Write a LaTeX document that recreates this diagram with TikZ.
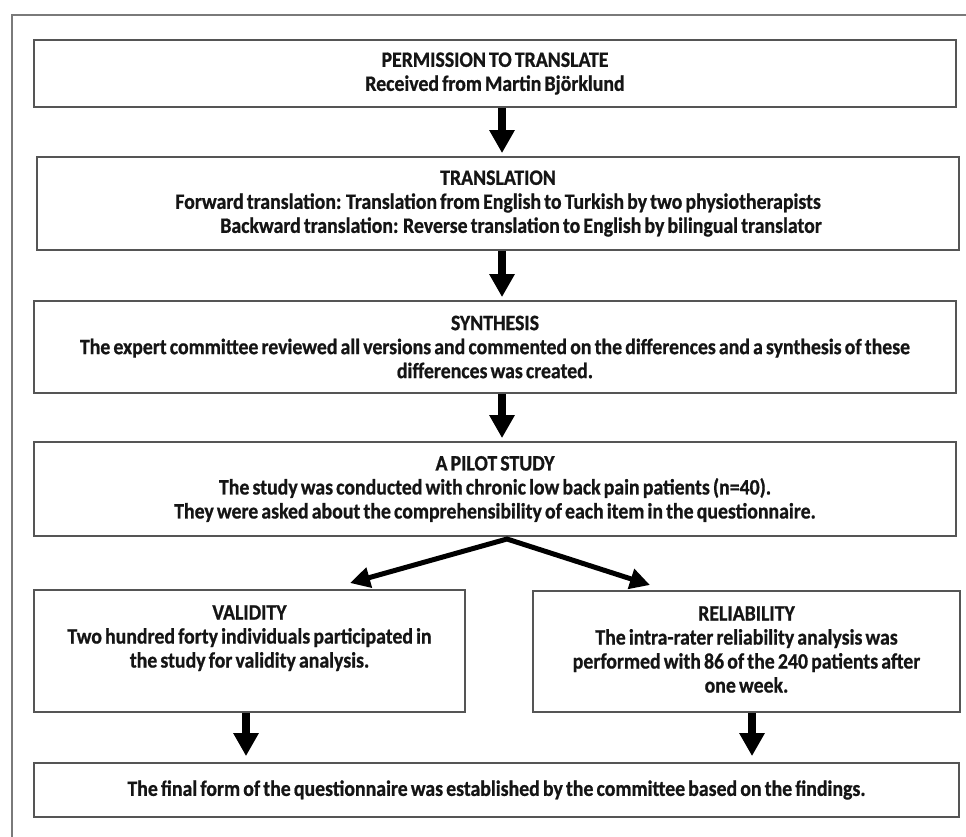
\documentclass[tikz,border=0pt]{standalone}
\usepackage{fontspec}
\setmainfont{Carlito}[WordSpace=0.7, FakeStretch=0.9, BoldFeatures={FakeBold=0.8}]
\usetikzlibrary{arrows.meta}
\definecolor{boxgray}{HTML}{555555}
\definecolor{framegray}{HTML}{7A7A7A}
\definecolor{txtblack}{HTML}{151515}
\tikzset{
  flowbox/.style={draw=boxgray, line width=1.8pt, rectangle, align=center,
    inner sep=0pt, text=txtblack, font=\fontsize{22}{24}\selectfont\bfseries},
  flowtext/.style={align=center, inner sep=0pt, text=txtblack,
    font=\fontsize{22}{24}\selectfont\bfseries},
  downarrow/.style={line width=7.5pt, black,
    -{Triangle[width=24pt,length=23pt]}},
  diagarrow/.style={line width=5pt, black, line join=miter,
    {Triangle[width=20pt,length=20pt]}-{Triangle[width=20pt,length=20pt]}}
}
\begin{document}
\begin{tikzpicture}[x=1pt,y=-1pt]
\useasboundingbox (0,0) rectangle (966,836);
\clip (0,0) rectangle (966,836);
\fill[white] (0,0) rectangle (966,836);
% outer frame (runs off the right and bottom edges)
\draw[framegray, line width=1.5pt] (12,15) rectangle (990,860);

\node[flowbox, minimum width=922pt, minimum height=67pt] (b1) at (495,73.5)
  {PERMISSION TO TRANSLATE\\Received from Martin Björklund};
\node[flowbox, minimum width=922pt, minimum height=93pt] (b2) at (498,203.5)
  {TRANSLATION\\Forward translation: Translation from English to Turkish by two physiotherapists\\
   \hspace*{46pt}Backward translation: Reverse translation to English by bilingual translator};
\node[flowbox, minimum width=922pt, minimum height=92pt] (b3) at (495,347)
  {SYNTHESIS\\The expert committee reviewed all versions and commented on the differences and a synthesis of these\\differences was created.};
\node[flowbox, minimum width=922pt, minimum height=94pt] (b4) at (495,489)
  {A PILOT STUDY\\The study was conducted with chronic low back pain patients (n=40).\\They were asked about the comprehensibility of each item in the questionnaire.};
\node[flowbox, minimum width=431pt, minimum height=122pt] (val) at (249.5,651) {};
\node[flowtext, anchor=north] (valtext) at ([yshift=-16pt]val.north)
  {VALIDITY\\Two hundred forty individuals participated in\\the study for validity analysis.};
\node[flowbox, minimum width=427pt, minimum height=121pt] (rel) at (746.5,651.5) {};
\node[flowtext, anchor=north] (reltext) at ([yshift=-16pt]rel.north)
  {RELIABILITY\\The intra-rater reliability analysis was\\performed with 86 of the 240 patients after\\one week.};
\node[flowbox, minimum width=925pt, minimum height=54pt] (fin) at (496.5,790)
  {The final form of the questionnaire was established by the committee based on the findings.};

\coordinate (ax) at (502,0);
\coordinate (vx) at (246,0);
\coordinate (rx) at (752,0);
\coordinate (split) at (507,539);
\coordinate (tl) at (350,583);
\coordinate (tr) at (650,585);

\draw[downarrow, shorten >=3pt] (b1.south -| ax) -- (b2.north -| ax);
\draw[downarrow, shorten >=3pt] (b2.south -| ax) -- (b3.north -| ax);
\draw[downarrow, shorten >=3pt] (b3.south -| ax) -- (b4.north -| ax);
\draw[diagarrow] (tl) -- (split) -- (tr);
\draw[downarrow, shorten >=6pt] (val.south -| vx) -- (fin.north -| vx);
\draw[downarrow, shorten >=6pt] (rel.south -| rx) -- (fin.north -| rx);
\end{tikzpicture}
\end{document}
